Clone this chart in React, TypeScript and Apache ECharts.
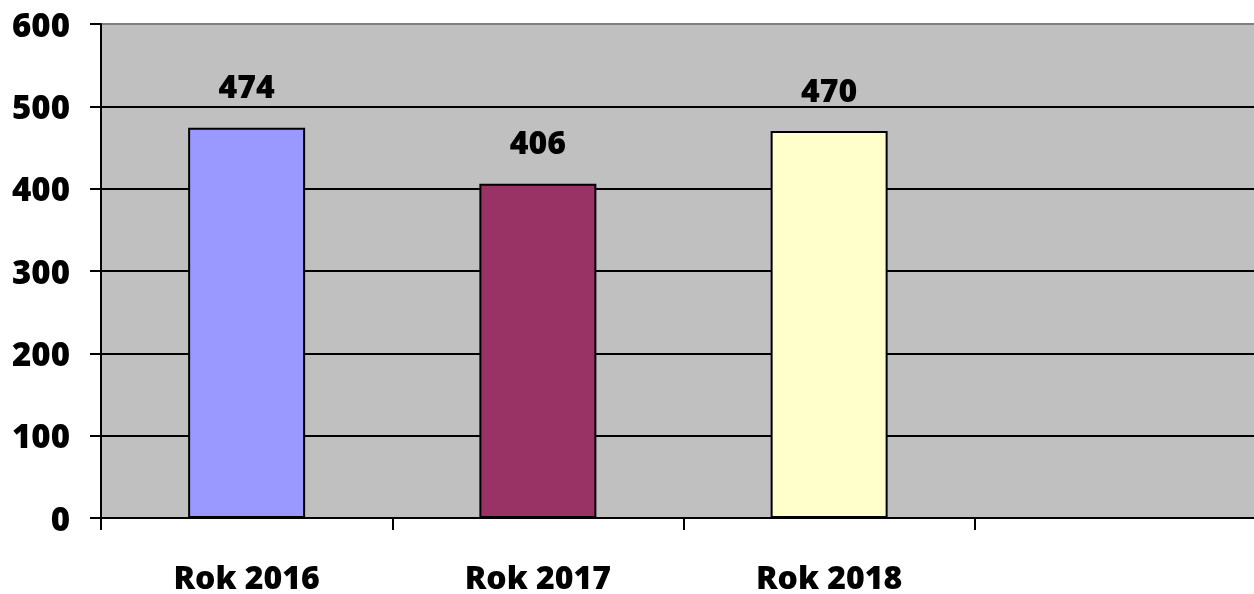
import React, { useEffect, useRef } from "react";
import * as echarts from "echarts";

const categories = ["Rok 2016", "Rok 2017", "Rok 2018", ""];
const values = [474, 406, 470, null];
const barColors = ["#9999ff", "#993366", "#ffffcc"];
const yTicks = [0, 100, 200, 300, 400, 500, 600];

export default function App() {
  const ref = useRef<HTMLDivElement>(null);
  useEffect(() => {
    const chart = echarts.init(ref.current!, null, { renderer: "svg" });
    const font = "'Open Sans', sans-serif";
    chart.setOption({
      animation: false,
      grid: {
        left: 101,
        top: 24,
        bottom: 76,
        right: 0,
        show: true,
        backgroundColor: "#c0c0c0",
        borderWidth: 0,
      },
      xAxis: {
        type: "category",
        data: categories,
        axisLine: { lineStyle: { color: "#000", width: 2 } },
        axisTick: { show: true, length: 12, lineStyle: { color: "#000", width: 2 } },
        axisLabel: {
          margin: 43,
          color: "#000",
          fontFamily: font,
          fontWeight: 800,
          fontSize: 32,
          lineHeight: 30,
        },
      },
      yAxis: {
        type: "value",
        min: yTicks[0],
        max: yTicks[yTicks.length - 1],
        interval: 100,
        axisLine: { show: true, lineStyle: { color: "#000", width: 2 } },
        axisTick: { show: true, length: 11, lineStyle: { color: "#000", width: 2 } },
        axisLabel: {
          margin: 31,
          color: "#000",
          fontFamily: font,
          fontWeight: 800,
          fontSize: 33,
        },
        splitLine: {
          show: true,
          lineStyle: {
            color: ["#000", "#000", "#000", "#000", "#000", "#000", "#808080"],
            width: 2,
          },
        },
      },
      series: [
        {
          type: "bar",
          barWidth: 117,
          data: values.map((v, i) => ({
            value: v,
            itemStyle: { color: barColors[i] || "#fff" },
          })),
          itemStyle: { borderColor: "#000", borderWidth: 2 },
          label: {
            show: true,
            position: "top",
            distance: 26,
            color: "#000",
            fontFamily: font,
            fontWeight: 800,
            fontSize: 32,
          },
        },
      ],
    });
    return () => chart.dispose();
  }, []);
  return (
    <div
      ref={ref}
      style={{ position: "fixed", left: 0, top: 0, width: 1266, height: 594 }}
    />
  );
}
